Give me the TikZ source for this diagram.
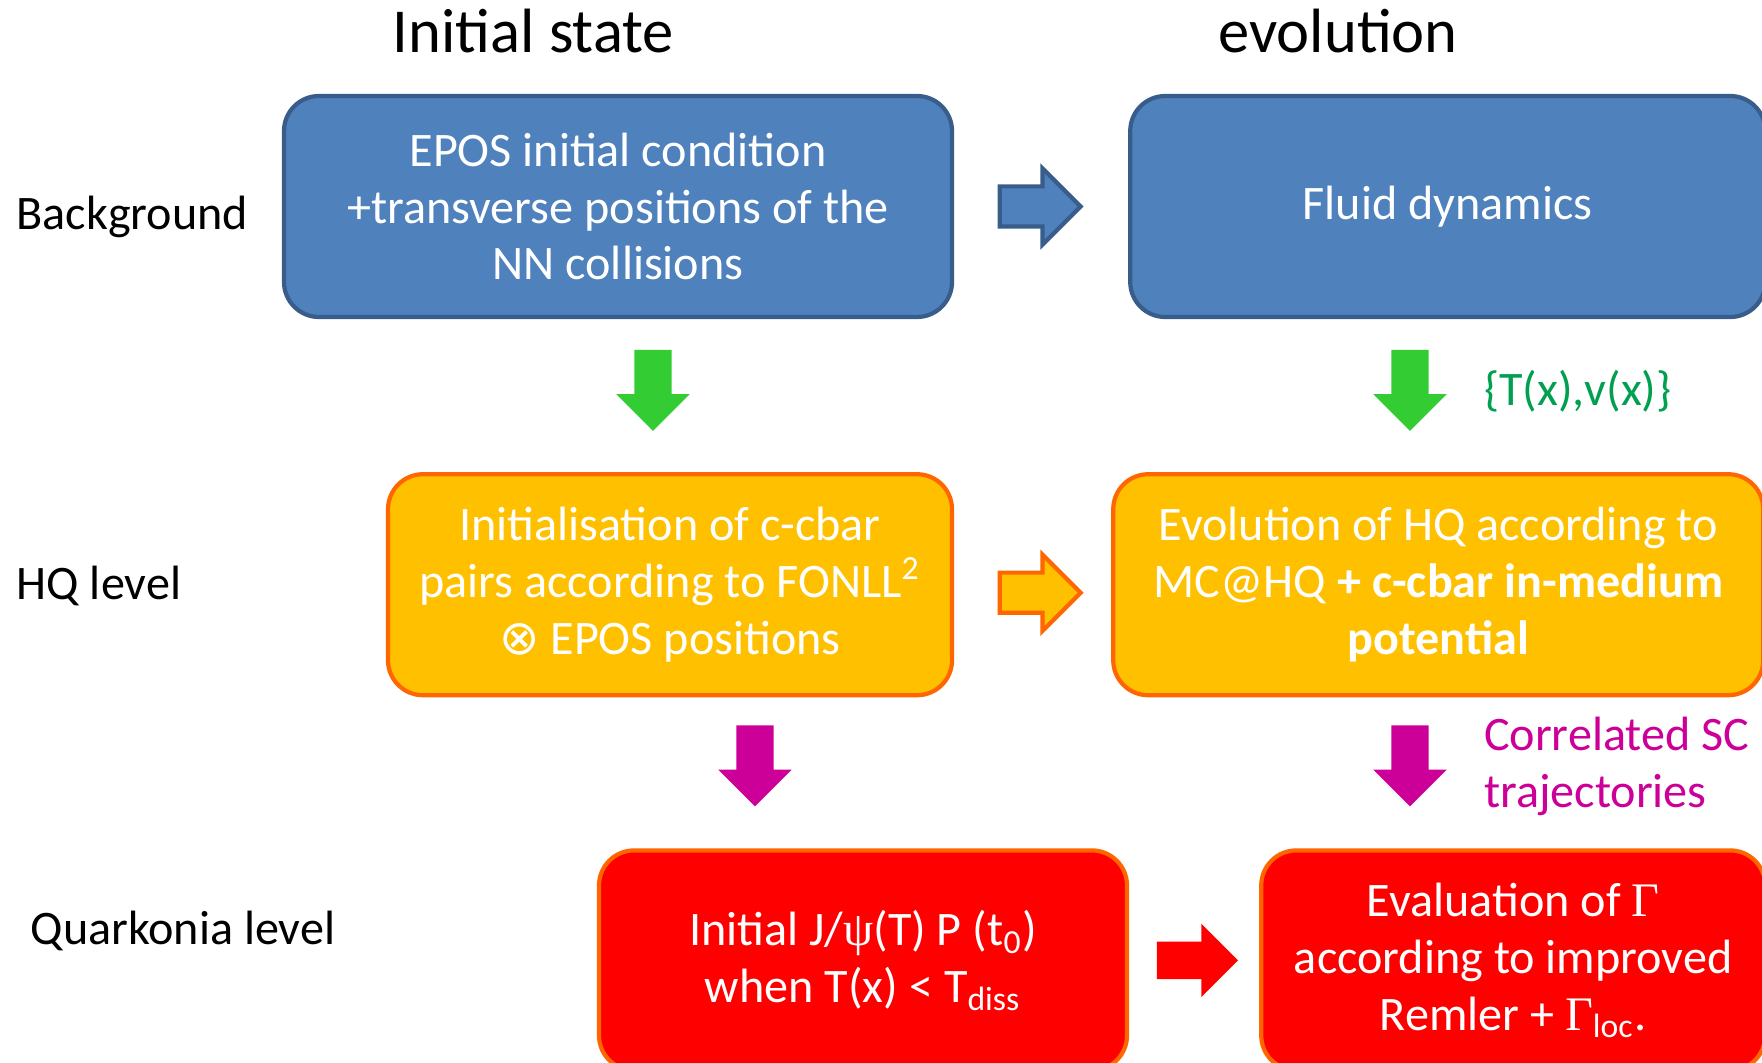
\documentclass[tikz,border=0pt]{standalone}
\usepackage{fontspec}
\setmainfont{Carlito}
\newfontfamily\grk{Liberation Serif}
\newfontfamily\symfnt{DejaVu Sans}
\usepackage{tikz}
\usetikzlibrary{positioning,shapes.arrows,calc}

\definecolor{bgfill}{HTML}{4F81BD}
\definecolor{bgline}{HTML}{385D8A}
\definecolor{hqfill}{HTML}{FFC000}
\definecolor{hqline}{HTML}{FF6600}
\definecolor{qkfill}{HTML}{FF0000}
\definecolor{arrgreen}{HTML}{33CC33}
\definecolor{arrmagenta}{HTML}{CC0099}
\definecolor{txtgreen}{HTML}{00A050}

\newcommand{\boxfnt}{\fontsize{13.7}{16.2}\selectfont}
\newcommand{\headfnt}{\fontsize{17.8}{21}\selectfont}

\begin{document}
\begin{tikzpicture}[
    box/.style={rectangle, rounded corners=0.35cm, line width=1.2pt, align=center, text=white, font=\boxfnt, inner sep=0pt, minimum height=2.21cm},
    box_bg/.style={box, draw=bgline, fill=bgfill},
    box_hq/.style={box, draw=hqline, fill=hqfill},
    box_qk/.style={box, draw=hqline, fill=qkfill},
    fatarrow/.style={single arrow, single arrow head extend=0.18cm, minimum height=0.81cm, minimum width=0.72cm, inner xsep=0pt, inner ysep=0.18cm},
    down/.style={fatarrow, shape border rotate=270, inner xsep=0.18cm, inner ysep=0pt},
    heading/.style={font=\headfnt, anchor=base, inner sep=0pt},
    level/.style={font=\boxfnt, anchor=base west, inner sep=0pt},
    note/.style={font=\boxfnt, align=left, inner sep=0pt}
]
    \useasboundingbox (0,0) rectangle (17.62,-10.63);

    % Column headings
    \node (hinit) [heading] at (5.335,-0.53) {Initial state};
    \node (hevol) [heading] at (13.38,-0.53) {evolution};

    % Row labels
    \node (lbg) [level] at (0.16,-2.30) {Background};
    \node (lhq) [level] at (0.16,-5.99) {HQ level};
    \node (lqk) [level] at (0.30,-9.44) {Quarkonia level};

    % Background
    \node (bginit) [box_bg, minimum width=6.68cm] at (6.18,-2.065) {EPOS initial condition\\+transverse positions of the\\NN collisions};
    \node (bgevol) [box_bg, minimum width=6.35cm, right=1.74cm of bginit] {Fluid dynamics};

    % HQ level
    \node (hqinit) [box_hq, minimum width=5.64cm, below=1.53cm of bginit.south east, anchor=north east] {Initialisation of c-cbar\\pairs according to FONLL\textsuperscript{2}\\{\symfnt ⊗} EPOS positions};
    \node (hqevol) [box_hq, minimum width=6.50cm, right=1.57cm of hqinit] {Evolution of HQ according to\\MC@HQ \textbf{+ c-cbar in-medium}\\\textbf{potential}};

    % Quarkonia level
    \node (qkinit) [box_qk, minimum width=5.28cm, minimum height=2.20cm, below=1.51cm of hqinit.south west, anchor=north west, xshift=2.11cm] {Initial J/{\grk ψ}(T) P (t\textsubscript{0})\\when T(x) < T\textsubscript{diss}};
    \node (qkevol) [box_qk, minimum width=5.04cm, minimum height=2.20cm, right=1.30cm of qkinit] {Evaluation of {\grk Γ}\\according to improved\\Remler + {\grk Γ}\textsubscript{loc}.};

    % Block arrows
    \node (abg) [fatarrow, draw=bgline, line width=1.2pt, fill=bgfill, xshift=-0.11cm] at ($(bginit.east)!0.5!(bgevol.west)$) {};
    \node (ahq) [fatarrow, draw=hqline, line width=1.2pt, fill=hqfill, yshift=-0.08cm] at (abg |- hqinit) {};
    \node (aqk) [fatarrow, fill=qkfill, xshift=-0.06cm] at ($(qkinit.east)!0.5!(qkevol.west)$) {};

    \node (dgreenA) [down, fill=arrgreen] at (6.53,-3.81) {};
    \node (dgreenB) [down, fill=arrgreen] at (14.10,-3.81) {};
    \node (dmagA) [down, fill=arrmagenta] at (7.55,-7.565) {};
    \node (dmagB) [down, fill=arrmagenta] at (14.10,-7.565) {};

    % Arrow notes
    \node (tv) [note, text=txtgreen, right=0.54cm of dgreenB, yshift=-0.10cm] {\{T(x),v(x)\}};
    \node (sc) [note, text=arrmagenta, right=0.54cm of dmagB, yshift=-0.10cm] {Correlated SC\\trajectories};
\end{tikzpicture}
\end{document}
